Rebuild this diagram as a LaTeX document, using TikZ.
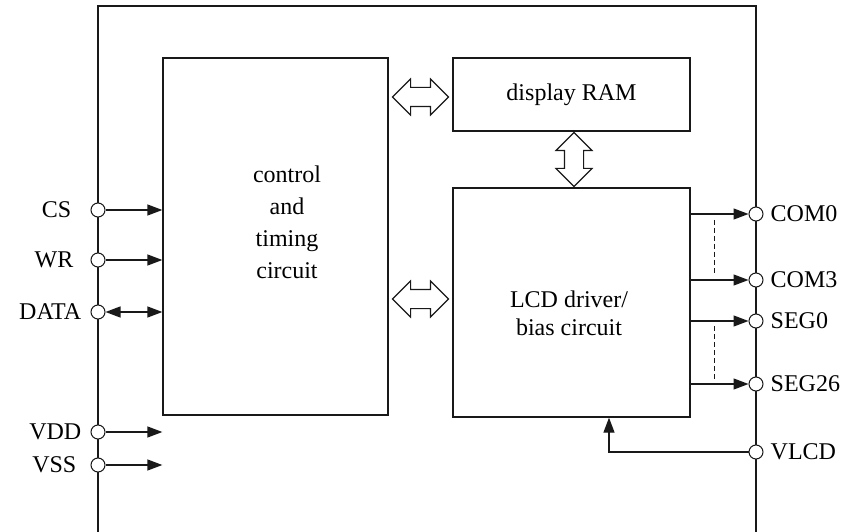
\documentclass[tikz,border=0pt]{standalone}
\usepackage{fontspec}
\setmainfont{Liberation Serif}
\usepackage{xcolor}
\usepackage{tikz}
\usetikzlibrary{shapes.arrows, arrows.meta, positioning, calc}
\definecolor{wire}{RGB}{25,25,25}
\tikzset{
  box/.style={rectangle, draw=wire, line width=1.3pt, inner sep=0pt,
    font=\fontsize{24}{28}\selectfont},
  padc/.style={circle, draw=wire, fill=white, minimum size=14pt,
    inner sep=0pt, line width=1pt},
  lbl/.style={inner sep=0pt, font=\fontsize{24}{28}\selectfont},
  sig/.style={-{Triangle[length=15pt, width=11pt]}, line width=1.3pt, color=wire},
  sigboth/.style={{Triangle[length=15pt, width=11pt]}-{Triangle[length=15pt, width=11pt]},
    line width=1.3pt, color=wire},
  bus/.style={double arrow, draw=wire, fill=white, line width=1.1pt,
    inner sep=9pt, double arrow head extend=8.5pt, minimum width=35pt},
  dashline/.style={dashed, dash pattern=on 5pt off 3pt, line width=1pt, color=wire},
}

\begin{document}
\begin{tikzpicture}[x=1pt, y=-1pt]
  \useasboundingbox (0,0) rectangle (847,532);

  % chip outline
  \draw[line width=1.3pt, color=wire] (98,532) -- (98,6) -- (756,6) -- (756,532);

  % blocks
  \node[box, minimum width=225pt, minimum height=357pt] (ctl) at (275.5,236.5) {};
  \node[lbl, align=center, font=\fontsize{24}{32}\selectfont] (ctltxt) at (287,222)
    {control\\and\\timing\\circuit};
  \node[box, minimum width=237pt, minimum height=73pt] (ram) at (571.5,94.5)
    {display RAM};
  \node[box, minimum width=237pt, minimum height=229pt] (lcd) at (571.5,302.5) {};
  \node[lbl, align=center] (lcdtxt) at (569,313) {LCD driver/\\bias circuit};

  % buses
  \node[bus, minimum height=56pt] (bus1) at ($(ctl.east |- 0,97)!0.5!(ram.west |- 0,97)$) {};
  \node[bus, minimum height=56pt] (bus2) at ($(ctl.east |- 0,299)!0.5!(lcd.west |- 0,299)$) {};
  \node[bus, minimum height=54pt, rotate=90] (bus3) at ($(ram.south)!0.5!(lcd.north)+(2.5,0)$) {};

  % left pins
  \node[padc] (pCS) at (98,210) {};
  \node[padc] (pWR) at (98,260) {};
  \node[padc] (pDATA) at (98,312) {};
  \node[padc] (pVDD) at (98,432) {};
  \node[padc] (pVSS) at (98,465) {};
  \node[lbl, left=19pt of pCS] (tCS) {CS};
  \node[lbl, left=17pt of pWR] (tWR) {WR};
  \node[lbl, left=9pt of pDATA] (tDATA) {DATA};
  \node[lbl, left=9pt of pVDD] (tVDD) {VDD};
  \node[lbl, left=14pt of pVSS] (tVSS) {VSS};

  % right pins
  \node[padc] (pCOM0) at (756,214) {};
  \node[padc] (pCOM3) at (756,280) {};
  \node[padc] (pSEG0) at (756,321) {};
  \node[padc] (pSEG26) at (756,384) {};
  \node[padc] (pVLCD) at (756,452) {};
  \node[lbl, right=7pt of pCOM0] (tCOM0) {COM0};
  \node[lbl, right=7pt of pCOM3] (tCOM3) {COM3};
  \node[lbl, right=7pt of pSEG0] (tSEG0) {SEG0};
  \node[lbl, right=7pt of pSEG26] (tSEG26) {SEG26};
  \node[lbl, right=7pt of pVLCD] (tVLCD) {VLCD};

  % inputs
  \coordinate (vddend) at (ctl.west |- pVDD);
  \coordinate (vssend) at (ctl.west |- pVSS);
  \draw[sig] (pCS) -- (pCS -| ctl.west);
  \draw[sig] (pWR) -- (pWR -| ctl.west);
  \draw[sigboth] (pDATA) -- (pDATA -| ctl.west);
  \draw[sig] (pVDD) -- (vddend);
  \draw[sig] (pVSS) -- (vssend);

  % outputs
  \draw[sig] (lcd.east |- pCOM0) -- (pCOM0);
  \draw[sig] (lcd.east |- pCOM3) -- (pCOM3);
  \draw[sig] (lcd.east |- pSEG0) -- (pSEG0);
  \draw[sig] (lcd.east |- pSEG26) -- (pSEG26);
  \draw[dashline] ($(lcd.east |- pCOM0)+(24,6)$) -- ($(lcd.east |- pCOM3)+(24,-5)$);
  \draw[dashline] ($(lcd.east |- pSEG0)+(24,5)$) -- ($(lcd.east |- pSEG26)+(24,-3)$);
  \draw[sig] (pVLCD) -| ([xshift=37.5pt]lcd.south);
\end{tikzpicture}
\end{document}
